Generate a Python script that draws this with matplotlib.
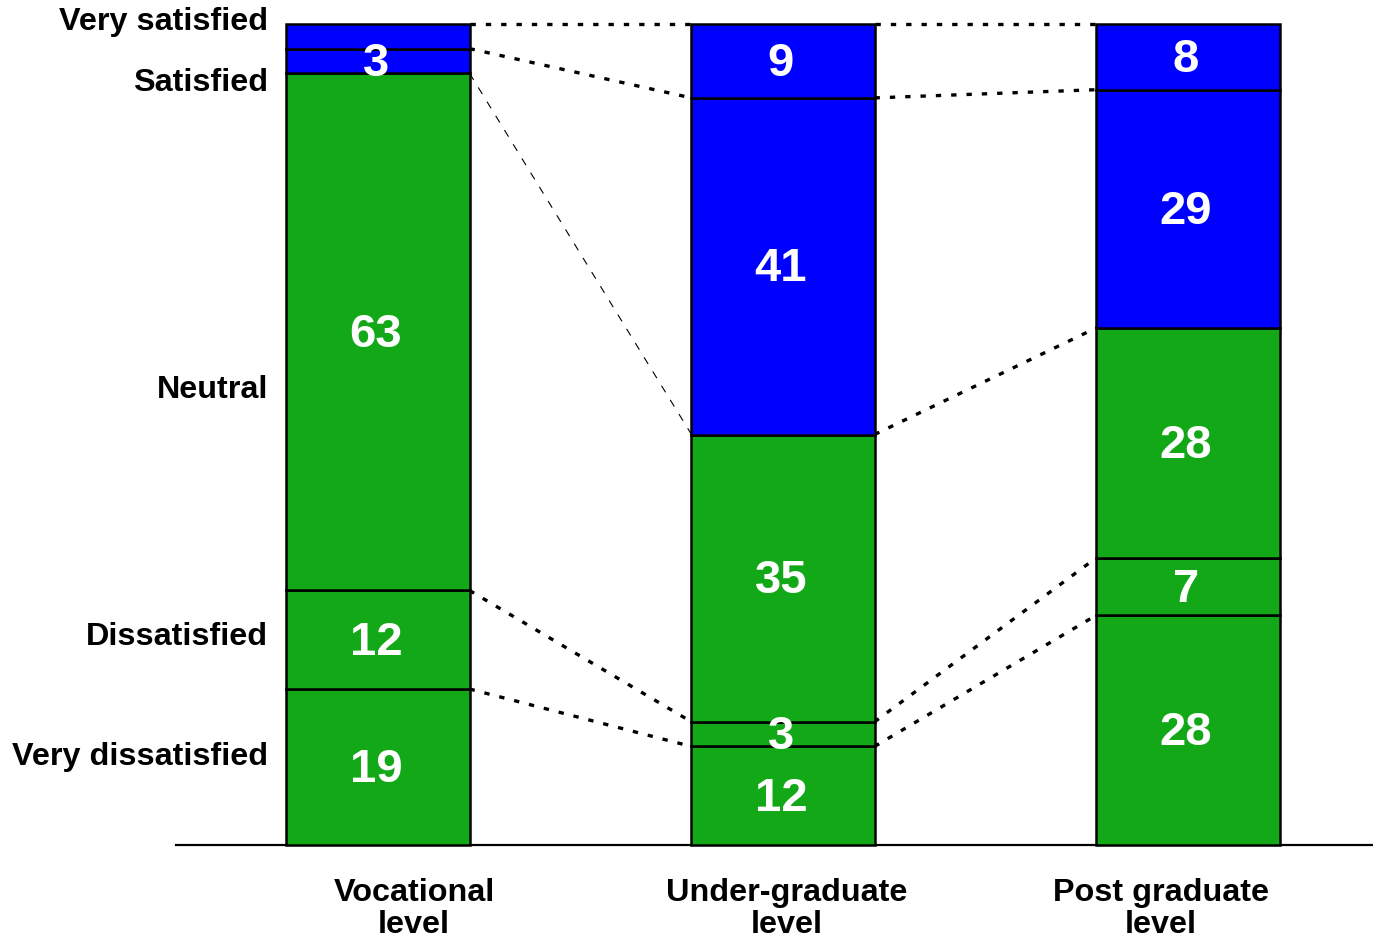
import numpy as np
import matplotlib
matplotlib.use("Agg")
from matplotlib import pyplot as plt

plt.rcParams['font.family'] = ['Liberation Sans', 'DejaVu Sans']
plt.rcParams['font.weight'] = 'bold'

# satisfaction shares (%) per education level, bottom to top
levels = ['Vocational\nlevel', 'Under-graduate\nlevel', 'Post graduate\nlevel']
very_dissatisfied = [19, 12, 28]
dissatisfied = [12, 3, 7]
neutral = [63, 35, 28]
satisfied = [3, 41, 29]
very_satisfied = [3, 9, 8]

categories = ['Very dissatisfied', 'Dissatisfied', 'Neutral', 'Satisfied', 'Very satisfied']
category_pos = [10.7, 25.3, 55.4, 92.8, 100.2]

GREEN = '#13a818'
BLUE = '#0000ff'
seg_colors = [GREEN, GREEN, GREEN, BLUE, BLUE]

series = np.array([very_dissatisfied, dissatisfied, neutral, satisfied, very_satisfied])
tops = np.cumsum(series, axis=0)
bottoms = tops - series

fig = plt.figure(figsize=(13.73, 9.40), dpi=100)
ax = fig.add_axes([0.1282, 0.10106, 0.8718, 0.8734])

x = np.arange(len(levels))
width = 0.452

for k in range(series.shape[0]):
    ax.bar(x, series[k], width, bottom=bottoms[k], color=seg_colors[k],
           edgecolor='black', linewidth=1.8, clip_on=False, zorder=3)
    for i in range(len(x)):
        # the very satisfied share of vocational sits under the satisfied label
        if k == 4 and i == 0:
            continue
        ax.text(x[i] - 0.005, bottoms[k][i] + series[k][i] / 2 - 0.4, str(series[k][i]),
                ha='center', va='center', color='white', fontsize=34,
                fontweight='bold', zorder=5)

# dotted links between matching boundaries of neighbouring bars
for i in range(len(x) - 1):
    for k in range(series.shape[0]):
        y0, y1 = tops[k][i], tops[k][i + 1]
        if abs(y1 - y0) > 40:
            ax.plot([x[i] + width / 2, x[i + 1] - width / 2], [y0, y1],
                    color='black', lw=0.8, dashes=(7, 8), clip_on=False, zorder=2)
        else:
            ax.plot([x[i] + width / 2, x[i + 1] - width / 2], [y0, y1],
                    color='black', lw=2.4, dashes=(1.6, 3.0), clip_on=False, zorder=2)

ax.set_xlim(-0.4988, 2.4568)
ax.set_ylim(0, 100)

for lab, yp in zip(categories, category_pos):
    ax.text(-0.272, yp, lab, ha='right', va='center', fontsize=23.3, fontweight='bold')

label_x = [0.1988, 0.5104, 0.8229]
for lab, xp in zip(levels, label_x):
    ax.text(xp, -0.078, lab, transform=ax.transAxes, ha='center', va='center',
            fontsize=23.3, fontweight='bold', linespacing=1.08)

for side in ['top', 'right', 'left']:
    ax.spines[side].set_visible(False)
ax.spines['bottom'].set_linewidth(1.6)
ax.set_xticks([])
ax.set_yticks([])

fig.savefig('out.png', dpi=100)
